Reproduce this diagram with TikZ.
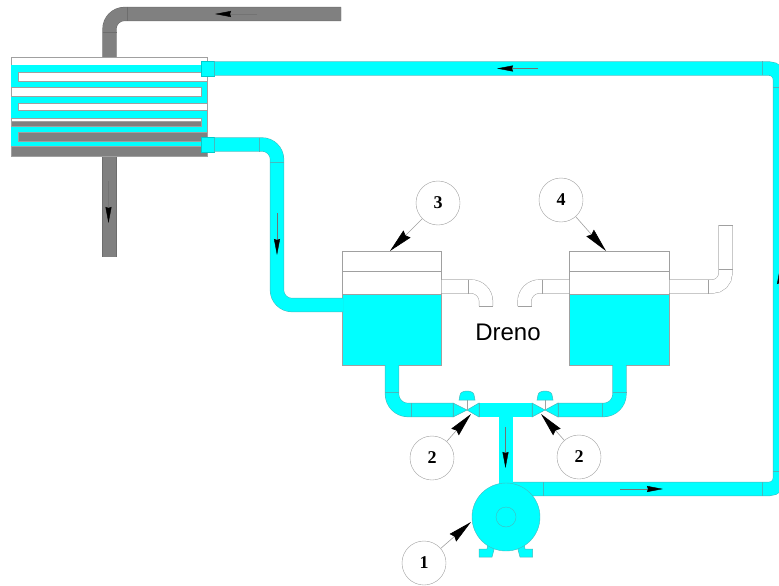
\documentclass[tikz,border=0pt]{standalone}
\usepackage{fontspec}
\setmainfont{Liberation Sans}
\newfontfamily\badgefont{Liberation Serif}
\usetikzlibrary{positioning,arrows.meta,calc}
\definecolor{water}{RGB}{0,255,255}
\definecolor{pipeedge}{RGB}{70,185,190}
\definecolor{hotgray}{RGB}{128,128,128}
\definecolor{thinline}{RGB}{160,160,160}
\tikzset{
  pipe/.style={draw=pipeedge,double=water,double distance=13.2pt,line width=0.5pt},
  hotpipe/.style={draw=hotgray!85!black,double=hotgray,double distance=13.2pt,line width=0.5pt},
  drain/.style={draw=thinline,double=white,double distance=13.2pt,line width=0.5pt},
  stub/.style={draw=water!80!black,line width=0.3pt,fill=water,minimum width=13pt,minimum height=15pt,inner sep=0pt,outer sep=0pt},
  tanktop/.style={draw=thinline,fill=white,minimum width=#1,inner sep=0pt,outer sep=0pt},
  tankwater/.style={draw=thinline,fill=water,minimum width=#1,minimum height=71pt,inner sep=0pt,outer sep=0pt},
  pumpbody/.style={circle,draw=pipeedge,inner sep=0pt,outer sep=0pt},
  badge/.style={circle,draw=thinline,fill=white,minimum size=44pt,inner sep=0pt,font=\badgefont\bfseries\fontsize{18}{20}\selectfont},
  leader/.style={draw=thinline,line width=0.6pt,-{Stealth[length=24pt,width=10pt,inset=2pt,black]}},
  flowmark/.style={draw=black!55,line width=0.4pt,-{Stealth[length=16pt,width=6pt,inset=1pt,black]}},
  joint/.style={draw=pipeedge,line width=0.5pt},
  slot/.style={draw=thinline,line width=0.4pt,fill=white},
  hotslot/.style={draw=thinline,line width=0.4pt,fill=hotgray}
}
\begin{document}
\begin{tikzpicture}[x=1pt,y=-1pt]
\useasboundingbox (0,0) rectangle (779,586);
% Trocador
\node[draw=thinline,fill=white,minimum width=196pt,minimum height=99pt,inner sep=0pt,outer sep=0pt] (coil) at (109.5,106.5) {};
\coordinate (hotin) at (341,14);
\draw[hotpipe,rounded corners=15pt] (hotin) -- (109.5,14) -- (coil.north);
\coordinate (hotout) at (109.5,257);
\draw[hotpipe] (coil.south) -- (hotout);
\fill[water] (11,65) rectangle (207,146);
\draw[slot] (18,72) rectangle (207,81);
\draw[slot] (11,87.5) rectangle (201,96);
\draw[slot] (18,103) rectangle (207,110);
\draw[slot] (11,118) rectangle (201,121);
\draw[hotslot] (11,121) rectangle (201,126);
\draw[hotslot] (18,132) rectangle (207,141);
\draw[hotslot] (11,146) rectangle (207,156);
\node[stub] (stubtop) at (207.5,68.5) {};
\node[stub] (stubbot) at (207.5,144.5) {};

% Tanques
\node[tanktop=99pt,minimum height=20pt] (lidA) at (392,261) {};
\node[tanktop=99pt,minimum height=23pt,below=0pt of lidA] (midA) {};
\node[tankwater=99pt,below=0pt of midA] (waterA) {};
\node[tanktop=100pt,minimum height=20pt] (lidB) at (619.5,261) {};
\node[tanktop=100pt,minimum height=23pt,below=0pt of lidB] (midB) {};
\node[tankwater=100pt,below=0pt of midB] (waterB) {};

\coordinate (inletA) at (343,305);
\coordinate (outA) at (486,306);
\coordinate (outB) at (524.5,306);
\coordinate (ventB) at (725.5,225);
\coordinate (valveA) at (467,410);
\coordinate (valveB) at (545,410);
\coordinate (teeL) at (479,410);
\coordinate (teeR) at (532,410);
\coordinate (teeC) at (506,417);
\coordinate (pumptop) at (506,484);

% Tubos
\draw[pipe,rounded corners=15pt] (stubbot.east) -- (277,144.5) -- (277,305) -- (inletA);
\draw[pipe,rounded corners=11pt] (stubtop.east) -- (780,68.5) -- (780,489) -- (513,489);
\draw[pipe,rounded corners=16pt] (waterA.south) |- (453,410);
\draw[pipe,rounded corners=16pt] (waterB.south) |- (558,410);
\draw[pipe] (teeL) -- (teeR);
\draw[pipe] (teeC) -- (pumptop);
\draw[drain,rounded corners=15pt] (441.5,286.5) -- (486,286.5) -- (outA);
\draw[drain,rounded corners=15pt] (569,286.5) -- (524.5,286.5) -- (outB);
\draw[drain,rounded corners=13pt] (669.5,286.5) -- (725.5,286.5) -- (ventB);

% Valvulas
\filldraw[joint,fill=water] (453,403) -- (valveA) -- (453,417) -- cycle;
\filldraw[joint,fill=water] (479,403) -- (valveA) -- (479,417) -- cycle;
\filldraw[joint,fill=water] (558,403) -- (valveB) -- (558,417) -- cycle;
\filldraw[joint,fill=water] (532,403) -- (valveB) -- (532,417) -- cycle;
\foreach \vx in {467,545}{
  \draw[thinline] (\vx,410) -- (\vx,400);
  \filldraw[joint,fill=water] (\vx-8,400) -- (\vx-7,395) arc[start angle=180,end angle=360,x radius=7,y radius=4] -- (\vx+8,400) -- cycle;
}

% Bomba
\filldraw[joint,fill=water] (488,544) -- (487,549) -- (479,549) -- (479,557) -- (492,557) -- (495,546) -- cycle;
\filldraw[joint,fill=water] (524,544) -- (525,549) -- (532.5,549) -- (532.5,557) -- (520,557) -- (517,546) -- cycle;
\node[pumpbody,fill=water,minimum size=68pt] (pump) at (506,517) {};
\node[pumpbody,minimum size=20pt] (eye) at (pump.center) {};

% Emendas
\foreach \jx/\jy in {214/144.5,259/144.5,214/68.5,762/68.5,762/489,543/489,411/410,602/410,453/410,558/410,479/410,532/410}{
  \draw[joint] (\jx,\jy-7) -- (\jx,\jy+7);
}
\foreach \jx/\jy in {277/162,780/87,780/471,392/392,619.5/392}{
  \draw[joint] (\jx-7,\jy) -- (\jx+7,\jy);
}
\draw[hotgray!85!black,line width=0.5pt] (127,7) -- (127,21);
\draw[hotgray!85!black,line width=0.5pt] (102.5,32) -- (116.5,32);
\foreach \jx/\jy in {468/286.5,542/286.5,708/286.5}{
  \draw[thinline,line width=0.5pt] (\jx,\jy-7) -- (\jx,\jy+7);
}
\foreach \jx/\jy in {486/306,524.5/306,725.5/225,725.5/269}{
  \draw[thinline,line width=0.5pt] (\jx-7,\jy) -- (\jx+7,\jy);
}

% Setas de fluxo
\coordinate (f1a) at (257,14); \coordinate (f1b) at (215,14);
\coordinate (f2a) at (108.5,181); \coordinate (f2b) at (108.5,223);
\coordinate (f3a) at (277,213); \coordinate (f3b) at (277,255);
\coordinate (f4a) at (538,68.5); \coordinate (f4b) at (497,68.5);
\coordinate (f5a) at (505.5,427); \coordinate (f5b) at (505.5,468);
\coordinate (f6a) at (620,489); \coordinate (f6b) at (663,489);
\coordinate (f7a) at (780,312); \coordinate (f7b) at (780,268);
\foreach \fa/\fb in {f1a/f1b,f2a/f2b,f3a/f3b,f4a/f4b,f5a/f5b,f6a/f6b,f7a/f7b}{
  \draw[flowmark] (\fa) -- (\fb);
}

\node[font=\fontsize{24}{28}\selectfont] (drainlabel) at (508,332) {Dreno};

% Legendas
\node[badge] (num1) at (424,563) {1};
\node[badge] (num2a) at (432,458) {2};
\node[badge] (num2b) at (579,457) {2};
\node[badge] (num3) at (438,203) {3};
\node[badge] (num4) at (561,200) {4};
\coordinate (tip1) at (471,522);
\coordinate (tip2a) at (471,414);
\coordinate (tip2b) at (541,414);
\coordinate (tip3) at (390,251);
\coordinate (tip4) at (606,251);
\draw[leader] (num1) -- (tip1);
\draw[leader] (num2a) -- (tip2a);
\draw[leader] (num2b) -- (tip2b);
\draw[leader] (num3) -- (tip3);
\draw[leader] (num4) -- (tip4);
\end{tikzpicture}
\end{document}
